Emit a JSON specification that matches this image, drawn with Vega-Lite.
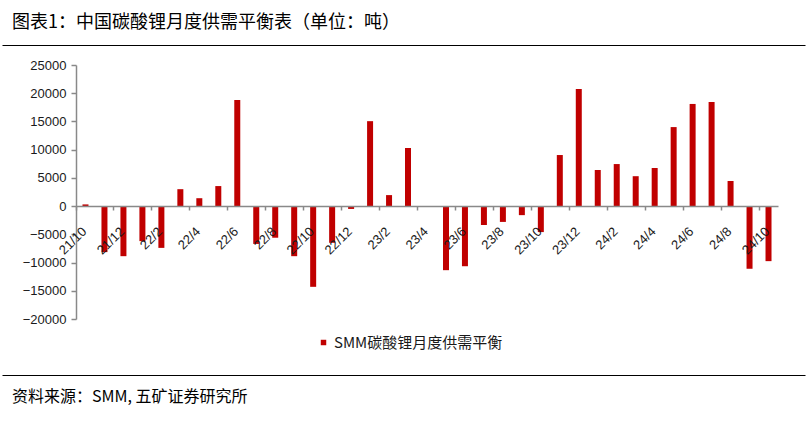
{
  "$schema": "https://vega.github.io/schema/vega-lite/v6.json",
  "padding": {"left": 2, "top": 14, "right": 0, "bottom": 0},
  "spacing": 14,
  "align": "none",
  "resolve": {"scale": {"color": "independent"}, "legend": {"color": "independent"}},
  "config": {
    "view": {"stroke": null},
    "font": "Noto Sans CJK SC",
    "title": {"fontWeight": "normal", "color": "#000000", "font": "Noto Sans CJK SC"}
  },
  "vconcat": [
    {
      "spacing": 14,
      "align": "none",
      "resolve": {"scale": {"color": "independent"}, "legend": {"color": "independent"}},
      "vconcat": [
        {
          "width": 803,
          "height": 1,
          "title": {"text": "图表1：中国碳酸锂月度供需平衡表（单位：吨）", "anchor": "start", "dx": 10, "offset": 12, "fontSize": 18},
          "data": {"values": [{"k": 0}]},
          "mark": {"type": "point", "opacity": 0, "size": 0},
          "encoding": {
            "x": {
              "field": "k", "type": "quantitative",
              "scale": {"domain": [0, 1]},
              "axis": {"orient": "bottom", "position": -74, "title": null, "ticks": false, "labels": false, "grid": false, "domainColor": "#000000", "domainWidth": 1.2}
            }
          }
        },
        {
          "resolve": {"scale": {"color": "independent"}, "legend": {"color": "independent"}},
          "hconcat": [
            {
              "width": 702,
              "height": 254,
              "data": {
                "values": [
                  {"month": "21/10", "value": 300, "series": "SMM碳酸锂月度供需平衡"},
                  {"month": "21/11", "value": -8150, "series": "SMM碳酸锂月度供需平衡"},
                  {"month": "21/12", "value": -8870, "series": "SMM碳酸锂月度供需平衡"},
                  {"month": "22/1", "value": -6200, "series": "SMM碳酸锂月度供需平衡"},
                  {"month": "22/2", "value": -7400, "series": "SMM碳酸锂月度供需平衡"},
                  {"month": "22/3", "value": 3000, "series": "SMM碳酸锂月度供需平衡"},
                  {"month": "22/4", "value": 1400, "series": "SMM碳酸锂月度供需平衡"},
                  {"month": "22/5", "value": 3550, "series": "SMM碳酸锂月度供需平衡"},
                  {"month": "22/6", "value": 18800, "series": "SMM碳酸锂月度供需平衡"},
                  {"month": "22/7", "value": -6700, "series": "SMM碳酸锂月度供需平衡"},
                  {"month": "22/8", "value": -5600, "series": "SMM碳酸锂月度供需平衡"},
                  {"month": "22/9", "value": -8870, "series": "SMM碳酸锂月度供需平衡"},
                  {"month": "22/10", "value": -14300, "series": "SMM碳酸锂月度供需平衡"},
                  {"month": "22/11", "value": -6500, "series": "SMM碳酸锂月度供需平衡"},
                  {"month": "22/12", "value": -500, "series": "SMM碳酸锂月度供需平衡"},
                  {"month": "23/1", "value": 15050, "series": "SMM碳酸锂月度供需平衡"},
                  {"month": "23/2", "value": 1950, "series": "SMM碳酸锂月度供需平衡"},
                  {"month": "23/3", "value": 10300, "series": "SMM碳酸锂月度供需平衡"},
                  {"month": "23/4", "value": 0, "series": "SMM碳酸锂月度供需平衡"},
                  {"month": "23/5", "value": -11350, "series": "SMM碳酸锂月度供需平衡"},
                  {"month": "23/6", "value": -10650, "series": "SMM碳酸锂月度供需平衡"},
                  {"month": "23/7", "value": -3350, "series": "SMM碳酸锂月度供需平衡"},
                  {"month": "23/8", "value": -2800, "series": "SMM碳酸锂月度供需平衡"},
                  {"month": "23/9", "value": -1600, "series": "SMM碳酸锂月度供需平衡"},
                  {"month": "23/10", "value": -4600, "series": "SMM碳酸锂月度供需平衡"},
                  {"month": "23/11", "value": 9050, "series": "SMM碳酸锂月度供需平衡"},
                  {"month": "23/12", "value": 20750, "series": "SMM碳酸锂月度供需平衡"},
                  {"month": "24/1", "value": 6400, "series": "SMM碳酸锂月度供需平衡"},
                  {"month": "24/2", "value": 7450, "series": "SMM碳酸锂月度供需平衡"},
                  {"month": "24/3", "value": 5300, "series": "SMM碳酸锂月度供需平衡"},
                  {"month": "24/4", "value": 6750, "series": "SMM碳酸锂月度供需平衡"},
                  {"month": "24/5", "value": 14000, "series": "SMM碳酸锂月度供需平衡"},
                  {"month": "24/6", "value": 18100, "series": "SMM碳酸锂月度供需平衡"},
                  {"month": "24/7", "value": 18450, "series": "SMM碳酸锂月度供需平衡"},
                  {"month": "24/8", "value": 4450, "series": "SMM碳酸锂月度供需平衡"},
                  {"month": "24/9", "value": -11100, "series": "SMM碳酸锂月度供需平衡"},
                  {"month": "24/10", "value": -9750, "series": "SMM碳酸锂月度供需平衡"}
                ]
              },
              "mark": {"type": "bar", "size": 6},
              "encoding": {
                "x": {
                  "field": "month", "type": "ordinal", "sort": null,
                  "scale": {"paddingInner": 0, "paddingOuter": 0},
                  "axis": {
                    "title": null,
                    "values": ["21/10","21/12","22/2","22/4","22/6","22/8","22/10","22/12","23/2","23/4","23/6","23/8","23/10","23/12","24/2","24/4","24/6","24/8","24/10"],
                    "bandPosition": 0,
                    "offset": -113,
                    "labelAngle": -45,
                    "labelAlign": "right",
                    "labelBaseline": "middle",
                    "labelOffset": -1,
                    "labelPadding": 19,
                    "labelFont": "Liberation Sans",
                    "labelFontSize": 13,
                    "labelColor": "#1a1a1a",
                    "labelOverlap": false,
                    "labelBound": false,
                    "domainColor": "#898989",
                    "domainWidth": 1.5,
                    "tickColor": "#898989",
                    "tickWidth": 1.5,
                    "tickSize": 4,
                    "grid": false,
                    "zindex": 1
                  }
                },
                "y": {
                  "field": "value", "type": "quantitative",
                  "scale": {"domain": [-20000, 25000], "nice": false, "zero": false},
                  "axis": {
                    "title": null,
                    "values": [-20000, -15000, -10000, -5000, 0, 5000, 10000, 15000, 20000, 25000],
                    "format": "d",
                    "labelFont": "Liberation Sans",
                    "labelFontSize": 13,
                    "labelColor": "#1a1a1a",
                    "labelPadding": 5,
                    "domainColor": "#898989",
                    "domainWidth": 1.5,
                    "tickColor": "#898989",
                    "tickWidth": 1.5,
                    "tickSize": 5,
                    "grid": false,
                    "minExtent": 74
                  }
                },
                "color": {
                  "field": "series", "type": "nominal",
                  "scale": {"range": ["#C00000"]},
                  "legend": {
                    "title": null,
                    "orient": "none",
                    "legendX": 230,
                    "legendY": 260,
                    "direction": "horizontal",
                    "symbolType": "square",
                    "symbolSize": 30,
                    "symbolStrokeWidth": 0,
                    "labelFont": "Noto Sans CJK SC",
                    "labelFontSize": 15,
                    "labelColor": "#1a1a1a",
                    "labelOffset": 3,
                    "labelLimit": 400,
                    "padding": 10
                  }
                }
              }
            }
          ]
        }
      ]
    },
    {
      "width": 803,
      "height": 34,
      "title": {"text": "资料来源：SMM, 五矿证券研究所", "orient": "top", "anchor": "start", "dx": 10, "offset": -30, "fontSize": 16},
      "data": {"values": [{"k": 0}]},
      "mark": {"type": "point", "opacity": 0, "size": 0},
      "encoding": {
        "x": {
          "field": "k", "type": "quantitative",
          "scale": {"domain": [0, 1]},
          "axis": {"orient": "top", "position": -74, "title": null, "ticks": false, "labels": false, "grid": false, "domainColor": "#000000", "domainWidth": 1.2}
        }
      }
    }
  ]
}
